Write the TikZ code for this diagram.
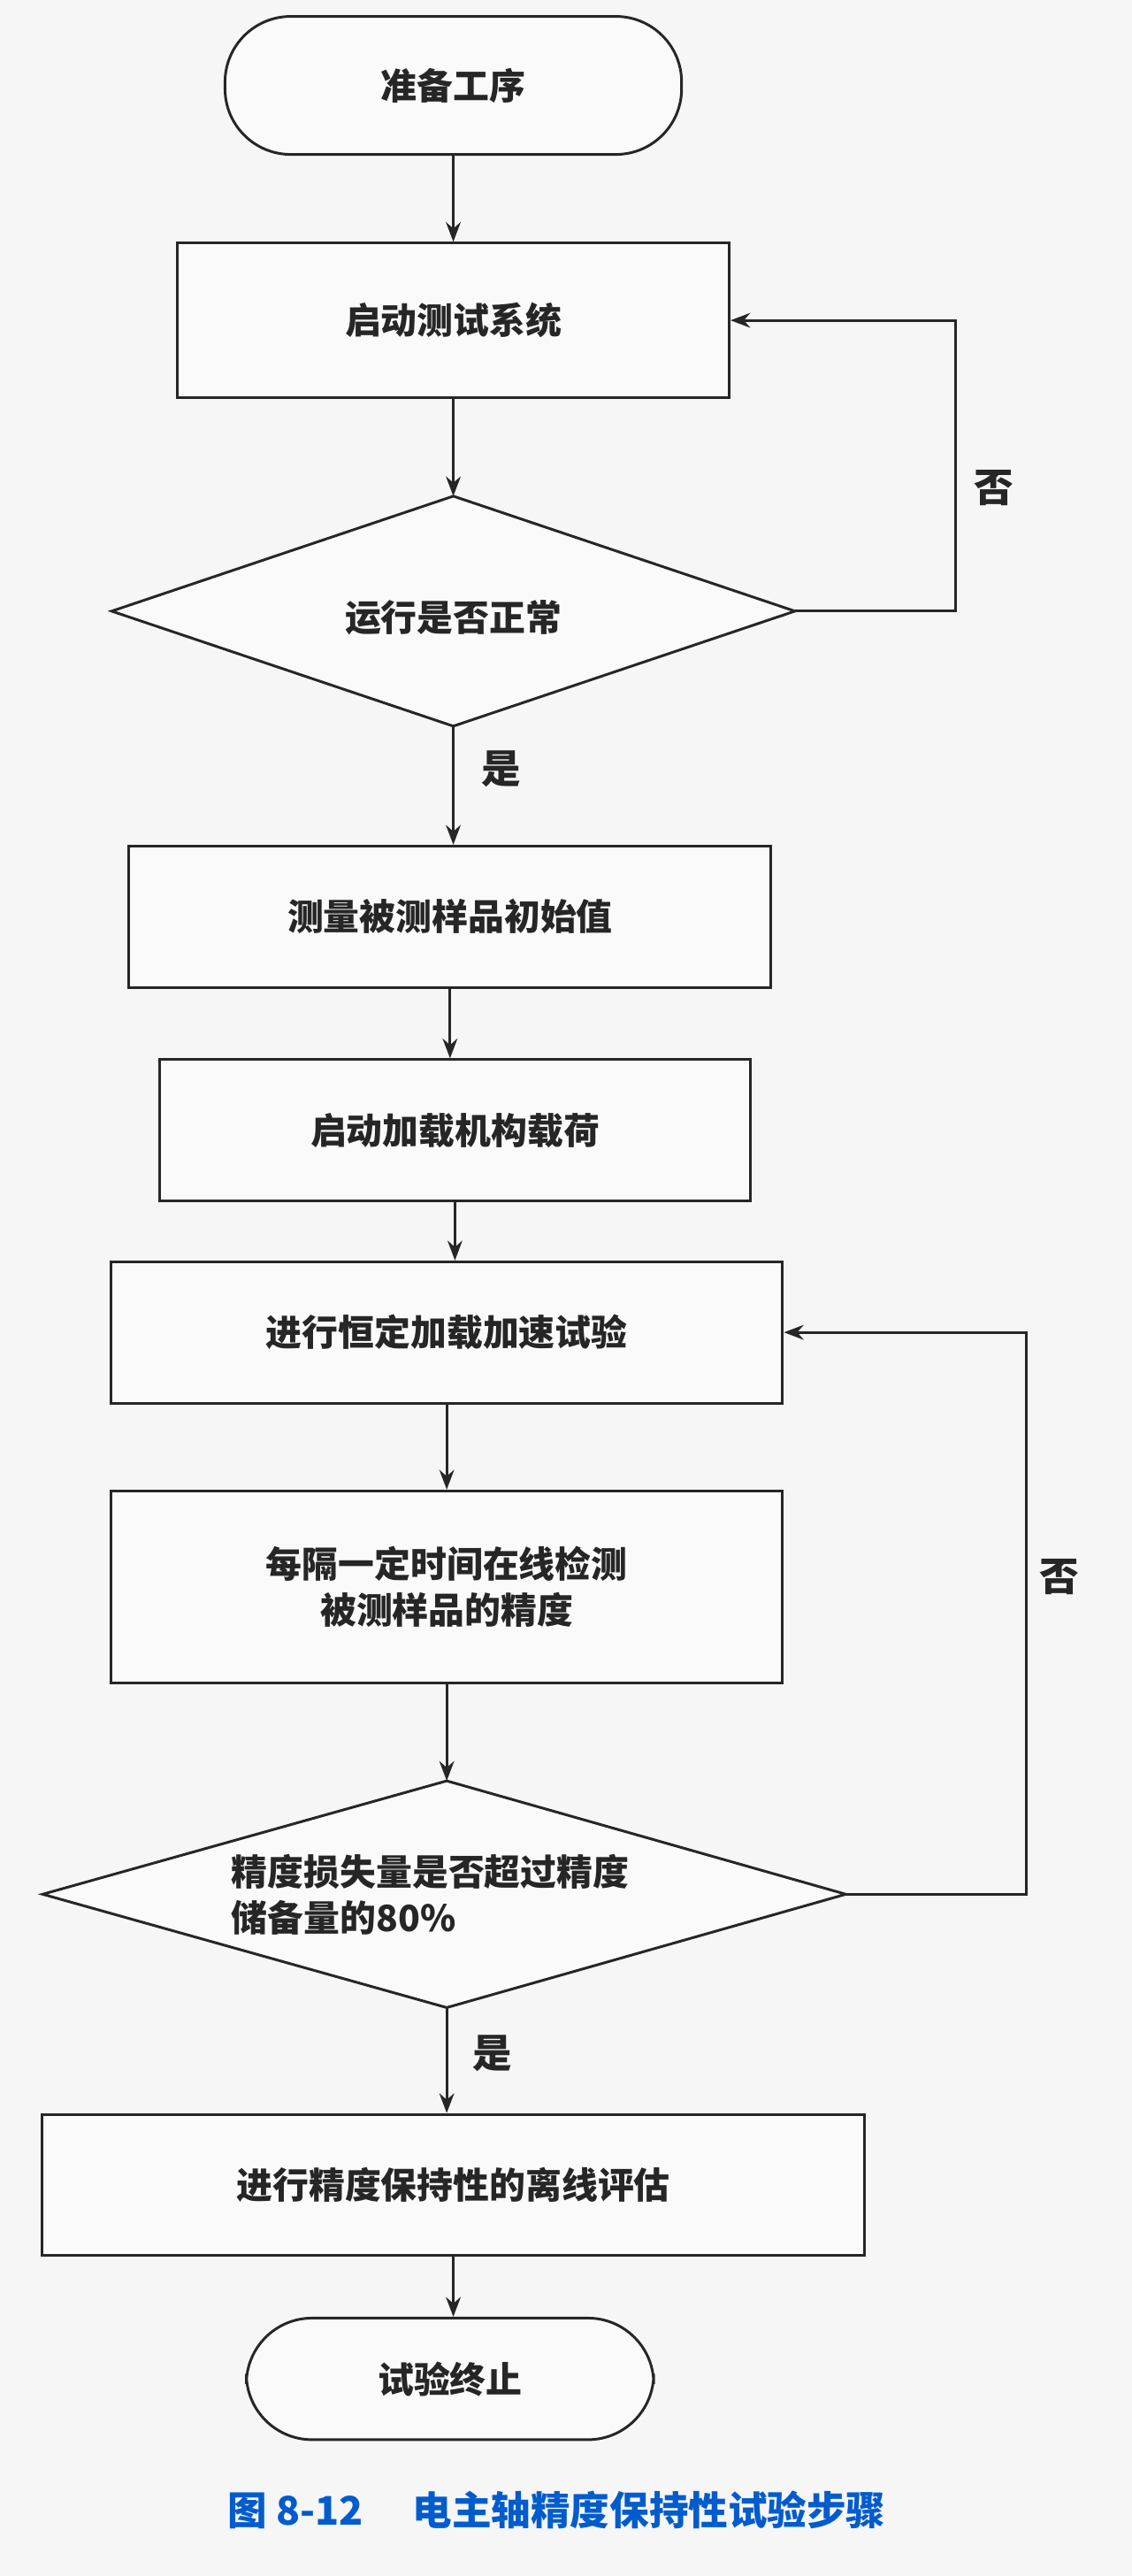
\documentclass[tikz,border=0pt]{standalone}
\usepackage{fontspec}
\setmainfont{Noto Sans CJK SC}
\usetikzlibrary{shapes.geometric,arrows.meta}
\begin{document}
\begin{tikzpicture}[x=1pt,y=-1pt,
  every node/.style={font=\fontsize{22}{28}\bfseries\selectfont, text=black!85},
  base/.style={draw=black!85, line width=1.6pt, fill=white!96!gray},
  term/.style={base, rounded corners=40pt, minimum width=#1, minimum height=84pt},
  proc/.style={base, minimum width=#1, minimum height=86pt},
  dline/.style={base, line join=miter},
  arr/.style={draw=black!85, line width=1.6pt, -{Stealth[length=12pt,width=9pt]}},
  lab/.style={font=\fontsize{24}{28}\bfseries\selectfont}]
\fill[white!93!gray] (0,0) rectangle (689,1568);
\useasboundingbox (0,0) rectangle (689,1568);
\node[term=278pt] (s) at (276,52) {准备工序};
\node[proc=336pt, minimum height=94pt] (b1) at (276,195) {启动测试系统};
% diamond 1
\coordinate (d1t) at (276,302);
\coordinate (d1b) at (276,442);
\coordinate (d1l) at (68,372);
\coordinate (d1r) at (484,372);
\draw[dline] (d1t) -- (d1r) -- (d1b) -- (d1l) -- cycle;
\node (d1) at (276,376) {运行是否正常};
\node[proc=391pt] (b2) at (274,558) {测量被测样品初始值};
\node[proc=360pt] (b3) at (277,688) {启动加载机构载荷};
\node[proc=409pt] (b4) at (272,811) {进行恒定加载加速试验};
\node[proc=409pt, minimum height=117pt, align=center] (b5) at (272,966) {每隔一定时间在线检测\\被测样品的精度};
% diamond 2
\coordinate (d2t) at (272,1084);
\coordinate (d2b) at (272,1222);
\coordinate (d2l) at (26,1153);
\coordinate (d2r) at (515,1153);
\draw[dline] (d2t) -- (d2r) -- (d2b) -- (d2l) -- cycle;
\node[align=left] (d2) at (262,1153) {精度损失量是否超过精度\\储备量的80\%};
\node[proc=501pt] (b6) at (276,1330) {进行精度保持性的离线评估};
\node[term=248pt, minimum height=74pt] (e) at (274,1448) {试验终止};
\draw[arr] (s) -- (s |- b1.north);
\draw[arr] (b1) -- (d1t);
\draw[arr] (d1b) -- (d1b |- b2.north);
\draw[arr] (b2) -- (b2 |- b3.north);
\draw[arr] (b3) -- (b3 |- b4.north);
\draw[arr] (b4) -- (b4 |- b5.north);
\draw[arr] (b5) -- (d2t);
\draw[arr] (d2b) -- (d2b |- b6.north);
\draw[arr] (b6) -- (b6 |- e.north);
\coordinate (c1) at (582,372);
\coordinate (c2) at (582,195);
\draw[arr] (d1r) -- (c1) -- (c2) -- (b1.east);
\coordinate (c3) at (625,1153);
\coordinate (c4) at (625,811);
\draw[arr] (d2r) -- (c3) -- (c4) -- (b4.east);
\node[lab] (n1) at (605,297) {否};
\node[lab] (y1) at (305,468) {是};
\node[lab] (n2) at (645,960) {否};
\node[lab] (y2) at (300,1250) {是};
\node[font=\fontsize{24}{28}\bfseries\selectfont, text=blue!55!cyan!80!black] (cap) at (339,1528) {图 8-12\hspace{30pt}电主轴精度保持性试验步骤};
\end{tikzpicture}
\end{document}
